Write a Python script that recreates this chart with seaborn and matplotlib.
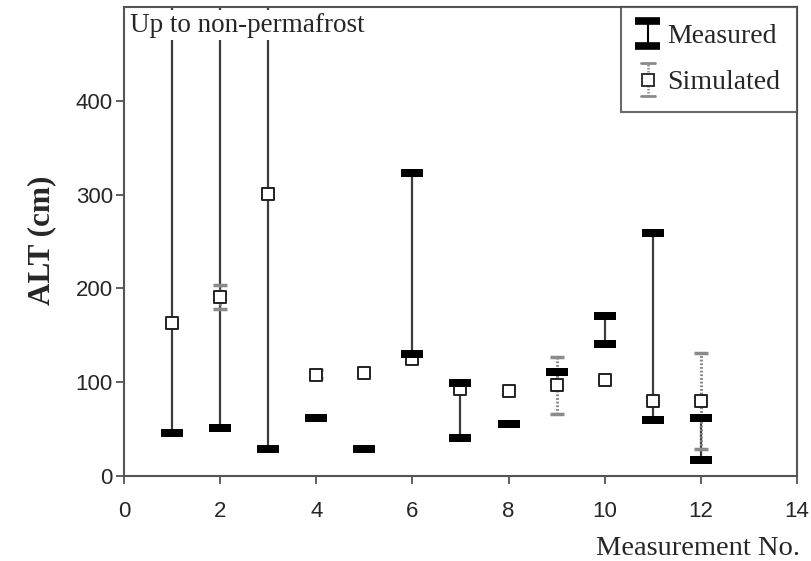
import numpy as np
import pandas as pd
import matplotlib
matplotlib.use("Agg")
import matplotlib.pyplot as plt
import seaborn as sns
from matplotlib.lines import Line2D
from matplotlib.legend_handler import HandlerBase

# ---------------- data ----------------
measurement_no = [1, 2, 3, 4, 5, 6, 7, 8, 9, 10, 11, 12]
measured_low = [46, 51, 29, 62, 29, 130, 40, 55, 111, 141, 60, 17]
# np.inf = "up to non-permafrost"; nan = single value
measured_high = [np.inf, np.inf, np.inf, np.nan, np.nan, 323, 99, np.nan, np.nan, 171, 259, 62]
simulated = [163, 191, 301, 108, 110, 125, 93, 91, 97, 102, 80, 80]
simulated_low = [np.nan, 178, np.nan, 104, np.nan, np.nan, np.nan, np.nan, 66, np.nan, np.nan, 29]
simulated_high = [np.nan, 204, np.nan, 113, np.nan, np.nan, np.nan, np.nan, 127, np.nan, np.nan, 131]
x_ticks = [0, 2, 4, 6, 8, 10, 12, 14]
y_ticks = [0, 100, 200, 300, 400]

sns.set_theme(style="white")
plt.rcParams['font.family'] = ['Liberation Sans', 'DejaVu Sans']

fig = plt.figure(figsize=(8.11, 5.61), dpi=100)
ax = fig.add_axes([0.1529, 0.1515, 0.8298, 0.836])
ymax = 500
ax.set_xlim(0, 14)
ax.set_ylim(0, ymax)

df_m = pd.DataFrame({"x": measurement_no, "lo": measured_low, "hi": measured_high})
df_s = pd.DataFrame({"x": measurement_no, "v": simulated,
                     "lo": simulated_low, "hi": simulated_high})

line_col = "#3c3c3c"
sim_col = "#8a8a8a"

# measured ranges (solid lines)
rng = df_m.dropna(subset=["hi"]).copy()
rng["top"] = rng["hi"].replace(np.inf, ymax * 1.05)
ax.vlines(rng["x"], rng["lo"], rng["top"], colors=line_col, linewidth=1.6, zorder=2)

# simulated error bars (gray dotted)
sr = df_s.dropna(subset=["lo"])
ax.vlines(sr["x"], sr["lo"], sr["hi"], colors=sim_col, linewidth=2.2,
          linestyles=(0, (0.6, 0.6)), zorder=2.5)
caps = pd.concat([sr[["x"]].assign(y=sr["lo"]), sr[["x"]].assign(y=sr["hi"])])
sns.scatterplot(data=caps, x="x", y="y", marker="_", s=90, color=sim_col,
                linewidth=2.5, ax=ax, zorder=2.6, legend=False)

# simulated squares
sns.scatterplot(data=df_s, x="x", y="v", marker="s", s=85, facecolor="white",
                edgecolor="#222222", linewidth=1.4, ax=ax, zorder=3, legend=False)

# measured caps (thick black bars)
rect = [(-1, -0.33), (1, -0.33), (1, 0.33), (-1, 0.33), (-1, -0.33)]
mc = pd.concat([df_m[["x"]].assign(y=df_m["lo"]),
                df_m[["x"]].assign(y=df_m["hi"])])
mc = mc[np.isfinite(mc["y"])]
sns.scatterplot(data=mc, x="x", y="y", marker=rect, s=240, color="black",
                linewidth=0, ax=ax, zorder=4, legend=False)

# axes styling
ax.set_xticks(x_ticks)
ax.set_yticks(y_ticks)
ax.tick_params(axis="both", which="major", direction="out", length=6, width=1.2,
               color="#444444", labelsize=16, bottom=True, left=True)
ax.tick_params(axis="y", pad=2)
ax.tick_params(axis="x", pad=12)
for s in ax.spines.values():
    s.set_color("#555555")
    s.set_linewidth(1.5)
ax.set_xlabel("")
ax.set_ylabel("")
serif = ['Liberation Serif', 'DejaVu Serif']
fig.text(0.052, 0.572, "ALT (cm)", rotation=90, ha="center", va="center",
         fontsize=22.5, fontweight="bold", family=serif)
fig.text(0.987, 0.022, "Measurement No.", ha="right", va="center",
         fontsize=20.5, family=serif)
ax.text(0.009, 0.988, "Up to non-permafrost", transform=ax.transAxes, ha="left", va="top",
        fontsize=19.5, family=serif, zorder=5,
        bbox=dict(facecolor="white", edgecolor="none", pad=2))


# legend with custom handles
class MeasHandler(HandlerBase):
    def create_artists(self, legend, orig, xd, yd, w, h, fontsize, trans):
        cx = xd + w / 2
        hw = 9
        lo, hi = yd - 2, yd + h + 2
        a = Line2D([cx, cx], [lo, hi], color="black", lw=1.5, transform=trans)
        b = Line2D([cx - hw, cx + hw], [hi, hi], color="black", lw=5.5,
                   solid_capstyle="butt", transform=trans)
        c = Line2D([cx - hw, cx + hw], [lo, lo], color="black", lw=5.5,
                   solid_capstyle="butt", transform=trans)
        return [a, b, c]


class SimHandler(HandlerBase):
    def create_artists(self, legend, orig, xd, yd, w, h, fontsize, trans):
        cx = xd + w / 2
        hw = 5
        lo, hi = yd - 5, yd + h + 5
        a = Line2D([cx, cx], [lo, hi], color=sim_col, lw=1.8,
                   ls=(0, (0.6, 0.6)), transform=trans)
        b = Line2D([cx - hw, cx + hw], [hi, hi], color=sim_col, lw=2,
                   transform=trans)
        c = Line2D([cx - hw, cx + hw], [lo, lo], color=sim_col, lw=2,
                   transform=trans)
        d = Line2D([cx], [yd + h / 2], marker="s", ms=8, mfc="white", mec="#222222",
                   mew=1.3, ls="none", transform=trans)
        return [a, b, c, d]


h_meas = Line2D([], [])
h_sim = Line2D([], [])
leg = ax.legend([h_meas, h_sim], ["Measured", "Simulated"],
                handler_map={h_meas: MeasHandler(), h_sim: SimHandler()},
                loc="upper right", bbox_to_anchor=(1.0, 1.0), frameon=True,
                fancybox=False, prop={"family": serif, "size": 20},
                handlelength=0.7, handletextpad=0.35, labelspacing=0.75,
                borderpad=0.6, borderaxespad=0.0)
leg.get_frame().set_edgecolor("#444444")
leg.get_frame().set_linewidth(1.5)
leg.set_zorder(6)

fig.savefig("out.png", dpi=100)
